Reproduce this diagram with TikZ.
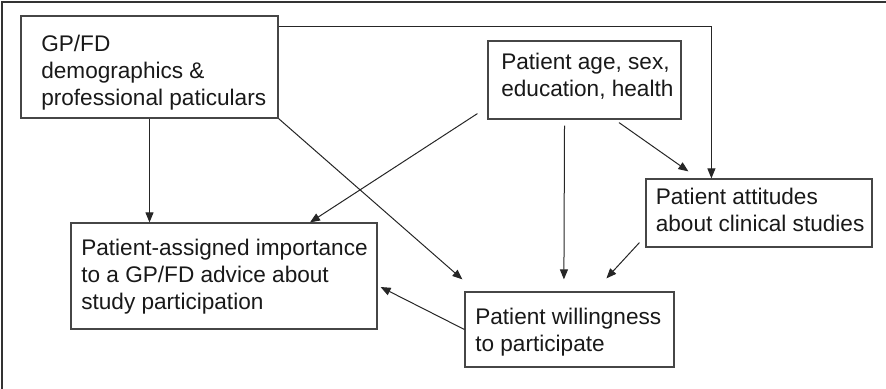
\documentclass[tikz,border=0pt]{standalone}
\usepackage{fontspec}
\setmainfont{Liberation Sans}
\usetikzlibrary{arrows.meta,calc}
\definecolor{linegray}{RGB}{70,70,70}

\tikzset{
  box/.style={draw=linegray, line width=0.6pt, fill=white, inner sep=0pt},
  txt/.style={anchor=north west, align=left, inner sep=0pt,
    font=\fontsize{11.3}{13.6}\selectfont, text=black!90},
  arr/.style={-{Triangle[length=5pt,width=4pt]}, line width=0.5pt, draw=black!85},
  frame/.style={line width=1pt, draw=black!80}
}

\begin{document}
\begin{tikzpicture}[x=0.5pt, y=-0.5pt]
            \useasboundingbox (0,0) rectangle (886,389);

            % Outer frame
            \draw[frame] (1.5,389) -- (1.5,2) -- (886,2);

            % GP/FD
            \node[box, minimum width=128.5pt, minimum height=51pt] (gp) at (149.5,67) {};
            \node[txt] (gptext) at ($(gp.north west)+(20.5,19)$) {GP/FD\\demographics \&\\professional paticulars};

            % Patient age
            \node[box, minimum width=96.5pt, minimum height=39pt] (age) at (584.5,80) {};
            \node[txt] (agetext) at ($(age.north west)+(13.5,12)$) {Patient age, sex,\\education, health};

            % Attitudes
            \node[box, minimum width=113pt, minimum height=34pt] (att) at (759,213) {};
            \node[txt] (atttext) at ($(att.north west)+(10,9)$) {Patient attitudes\\about clinical studies};

            % Importance
            \node[box, minimum width=153pt, minimum height=53pt] (imp) at (224,276) {};
            \node[txt] (imptext) at ($(imp.north west)+(10.5,16)$) {Patient-assigned importance\\to a GP/FD advice about\\study participation};

            % Willingness
            \node[box, minimum width=104.5pt, minimum height=37.5pt] (will) at (569.5,329.5) {};
            \node[txt] (willtext) at ($(will.north west)+(10.5,16)$) {Patient willingness\\to participate};

            % Arrows from GP/FD
            \draw[arr] (gp.south) -- (gp.south |- imp.north);
            \draw[arr] ($(gp.north east)+(0,11)$) -| ($(att.north west)+(66,0)$);
            \draw[arr] (gp.south east) -- ($(will.north west)+(-2,-12)$);

            % Arrows from patient age
            \draw[arr] ($(age.south west)+(-10,-6)$) -- ($(imp.north)+(86,0)$);
            \draw[arr] ($(age.south)+(34.5,3)$) -- ($(att.north west)+(43,-7)$);
            \draw[arr] ($(age.south)+(-20,6)$) -- ($(will.north west)+(99.5,-12)$);

            % Attitudes and willingness
            \draw[arr] ($(att.south west)+(-6,-5)$) -- ($(will.north west)+(142,-13)$);
            \draw[arr] (will.west) -- ($(imp.east)+(3,11)$);
        \end{tikzpicture}
\end{document}
